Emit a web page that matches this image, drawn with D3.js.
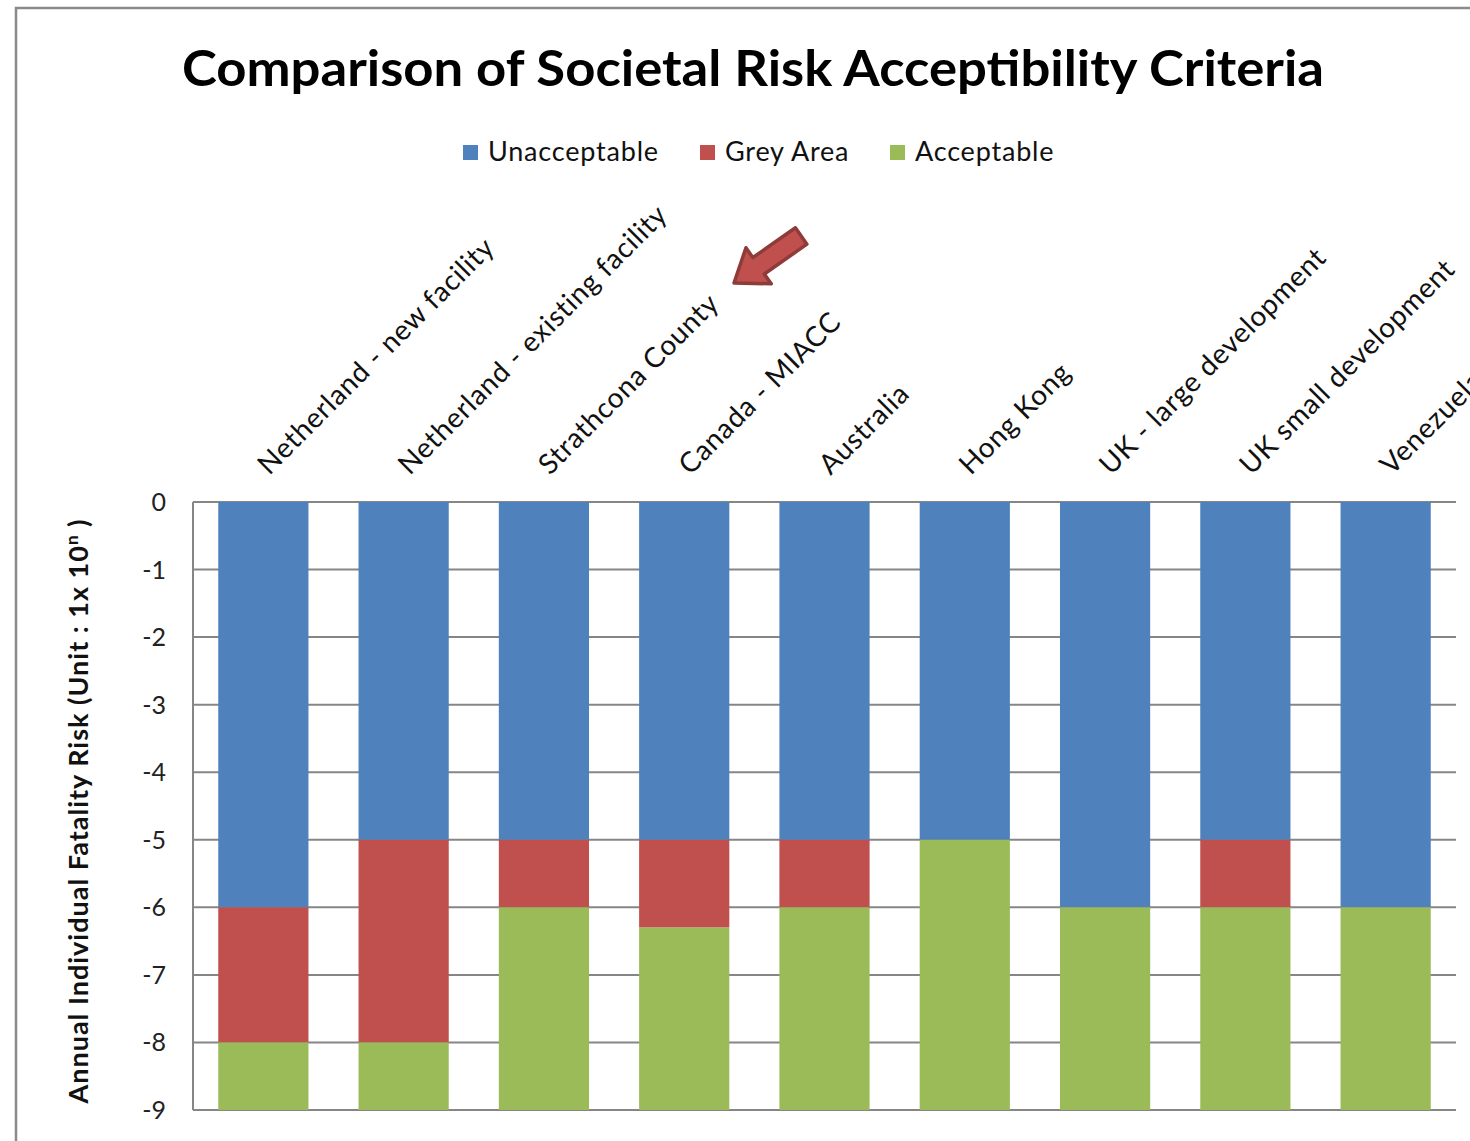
<!DOCTYPE html>
<html>
<head>
<meta charset="utf-8">
<script src="https://cdn.jsdelivr.net/npm/d3@7"></script>
<style>
  body { margin: 0; background: #fff; }
  text { font-family: Lato, 'Open Sans', sans-serif; }
</style>
</head>
<body>
<div id="chart"></div>
<script>
// categories and stacked segment sizes (in powers of ten, measured down from 0)
const categories = [
  'Netherland - new facility',
  'Netherland - existing facility',
  'Strathcona County',
  'Canada - MIACC',
  'Australia',
  'Hong Kong',
  'UK - large development',
  'UK small development',
  'Venezuela'
]
const unacceptable = [6, 5, 5, 5, 5, 5, 6, 5, 6]
const greyArea = [2, 3, 1, 1.3, 1, 0, 0, 1, 0]
const acceptable = [1, 1, 3, 2.7, 3, 4, 3, 3, 3]
const seriesNames = ['Unacceptable', 'Grey Area', 'Acceptable']
const yTicks = [0, -1, -2, -3, -4, -5, -6, -7, -8, -9]

const colors = ['#4F81BD', '#C0504D', '#9BBB59']

const width = 1470
const height = 1141
const plot = { left: 193, right: 1456, top: 502, bottom: 1110 }

let svg = d3
  .select('#chart')
  .append('svg')
  .attr('width', width)
  .attr('height', height)

// outer chart border (cropped on right / bottom)
svg
  .append('rect')
  .attr('x', 16)
  .attr('y', 8)
  .attr('width', 1600)
  .attr('height', 1300)
  .attr('fill', 'none')
  .attr('stroke', '#8a8a8a')
  .attr('stroke-width', 2.5)

const xPositionScale = d3
  .scaleBand()
  .domain(categories)
  .range([plot.left, plot.right])
  .paddingInner(0.357)
  .paddingOuter(0.18)

const yPositionScale = d3
  .scaleLinear()
  .domain([0, -9])
  .range([plot.top, plot.bottom])

// gridlines
svg
  .append('g')
  .selectAll('line')
  .data(yTicks)
  .enter()
  .append('line')
  .attr('x1', plot.left)
  .attr('x2', plot.right)
  .attr('y1', d => yPositionScale(d))
  .attr('y2', d => yPositionScale(d))
  .attr('stroke', '#868686')
  .attr('stroke-width', 2)

svg
  .append('line')
  .attr('x1', plot.left)
  .attr('x2', plot.left)
  .attr('y1', plot.top)
  .attr('y2', plot.bottom)
  .attr('stroke', '#868686')
  .attr('stroke-width', 2)

// stacked bars
const table = categories.map((c, i) => ({
  category: c,
  'Unacceptable': unacceptable[i],
  'Grey Area': greyArea[i],
  'Acceptable': acceptable[i]
}))

const stacked = d3.stack().keys(seriesNames)(table)

svg
  .append('g')
  .selectAll('g')
  .data(stacked)
  .enter()
  .append('g')
  .attr('fill', (d, i) => colors[i])
  .selectAll('rect')
  .data(d => d)
  .enter()
  .append('rect')
  .attr('x', d => xPositionScale(d.data.category))
  .attr('width', xPositionScale.bandwidth())
  .attr('y', d => yPositionScale(-d[0]))
  .attr('height', d => yPositionScale(-d[1]) - yPositionScale(-d[0]))

// y tick labels
svg
  .append('g')
  .selectAll('text')
  .data(yTicks)
  .enter()
  .append('text')
  .attr('x', 166)
  .attr('y', d => yPositionScale(d) + 9)
  .attr('text-anchor', 'end')
  .attr('font-size', 25)
  .attr('fill', '#222')
  .text(d => (d === 0 ? '0' : '-' + Math.abs(d)))

// category labels at the top, rotated
svg
  .append('g')
  .selectAll('text')
  .data(categories)
  .enter()
  .append('text')
  .attr('transform', d => {
    let x = xPositionScale(d) + xPositionScale.bandwidth() / 2 + 6
    return 'translate(' + x + ',476) rotate(-45)'
  })
  .attr('text-anchor', 'start')
  .attr('font-size', 28)
  .attr('letter-spacing', 0.7)
  .attr('fill', '#111')
  .text(d => d)

// title
svg
  .append('text')
  .attr('x', 753)
  .attr('y', 86)
  .attr('text-anchor', 'middle')
  .attr('font-size', 50)
  .attr('font-weight', 'bold')
  .attr('fill', '#000')
  .attr('textLength', 1142)
  .attr('lengthAdjust', 'spacingAndGlyphs')
  .text('Comparison of Societal Risk Acceptibility Criteria')

// legend
const legendX = [463, 700, 890]
let legend = svg.append('g')

legend
  .selectAll('.legend-entry')
  .data(seriesNames)
  .enter()
  .append('g')
  .attr('class', 'legend-entry')
  .attr('transform', (d, i) => `translate(${legendX[i]},145)`)
  .each(function(d, i) {
    let g = d3.select(this)
    g.append('rect')
      .attr('width', 15)
      .attr('height', 15)
      .attr('fill', colors[i])
    g.append('text')
      .attr('x', 25)
      .attr('y', 16)
      .attr('font-size', 27)
      .attr('letter-spacing', 0.8)
      .attr('fill', '#111')
      .text(d)
  })

// y axis title
let yTitle = svg
  .append('text')
  .attr('transform', 'translate(88,811) rotate(-90)')
  .attr('text-anchor', 'middle')
  .attr('font-size', 27)
  .attr('font-weight', 'bold')
  .attr('letter-spacing', 1)
  .attr('fill', '#111')

yTitle.append('tspan').text('Annual Individual Fatality Risk (Unit : 1x 10')
yTitle
  .append('tspan')
  .attr('dy', -10)
  .attr('font-size', 17)
  .text('n')
yTitle
  .append('tspan')
  .attr('dy', 10)
  .text(' )')

// red arrow annotation pointing at Strathcona County
svg
  .append('path')
  .attr('d', 'M0,0 L30,-22 L30,-10 L82,-10 L82,10 L30,10 L30,22 Z')
  .attr('transform', 'translate(734,283) rotate(-35)')
  .attr('fill', '#C0504D')
  .attr('stroke', '#8E3B39')
  .attr('stroke-width', 3.5)
  .attr('stroke-linejoin', 'round')
</script>
</body>
</html>
